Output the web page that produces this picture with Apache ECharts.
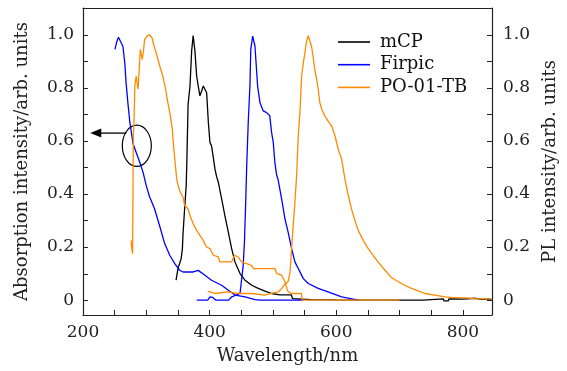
<!DOCTYPE html>
<html>
<head>
<meta charset="utf-8">
<script src="https://cdn.jsdelivr.net/npm/echarts@6/dist/echarts.min.js"></script>
<style>
  html, body { margin: 0; padding: 0; background: #fff; }
  #chart { width: 567px; height: 371px; }
</style>
</head>
<body>
<div id="chart"></div>
<script>
// tick positions / labels
var xTickLabels = [200, 400, 600, 800];
var yTickLabels = [0, 0.2, 0.4, 0.6, 0.8, 1.0];
var yTicks = [0, 0.1, 0.2, 0.3, 0.4, 0.5, 0.6, 0.7, 0.8, 0.9, 1.0];

// mCP PL
var mcpNm = [347, 350, 355, 357, 358, 360.5, 363, 364, 366, 369, 371.6, 374, 376.8, 379.5, 382, 384.7, 387.4, 390, 392.6, 395.3, 398, 400.5, 403, 405.8, 408.4, 411, 413.7, 419, 424, 429.5, 434.8, 440, 448, 455.8, 466.4, 476.8, 487.4, 498, 511, 529, 531, 560, 600, 700, 737, 738, 769, 770, 777, 778, 800, 820, 830, 845];
var mcpPL = [0.075, 0.119, 0.156, 0.194, 0.25, 0.344, 0.431, 0.519, 0.7375, 0.806, 0.9375, 0.996, 0.9375, 0.844, 0.806, 0.769, 0.775, 0.806, 0.8125, 0.781, 0.669, 0.594, 0.581, 0.5375, 0.494, 0.465, 0.444, 0.381, 0.319, 0.256, 0.194, 0.144, 0.1, 0.075, 0.056, 0.044, 0.034, 0.025, 0.02, 0.02, 0.006, 0.002, 0.001, 0, 0, 0.005, 0.005, -0.003, -0.003, 0.005, 0.004, 0.007, 0.003, 0.004];

// Firpic absorption
var firAbsNm = [250.5, 253, 256, 259, 263, 266, 268, 271, 274, 279, 284, 289.5, 295, 300, 305, 313, 321, 329, 337, 345, 352.6, 358, 374, 382, 392.6, 403, 419, 429.5, 440, 456, 471.6, 480, 548];
var firAbs = [0.944, 0.97, 0.99, 0.985, 0.956, 0.894, 0.82, 0.74, 0.67, 0.59, 0.556, 0.52, 0.48, 0.43, 0.39, 0.344, 0.28, 0.213, 0.169, 0.1375, 0.1125, 0.106, 0.106, 0.112, 0.094, 0.075, 0.056, 0.0375, 0.019, 0.0125, 0.002, 0, 0];

// Firpic PL
var firPLNm = [379.5, 397, 400.5, 405, 410, 430, 435, 448, 451, 453, 455, 457, 458.5, 461, 463.7, 465, 468, 471.6, 473, 475.8, 479.5, 484.7, 490, 495, 497.9, 500.5, 503, 506, 508, 513.7, 519, 524, 529.5, 534.7, 540, 548, 555.8, 571.5, 587, 608.5, 634.7];
var firPL = [0, 0, 0.0125, 0.01, 0, 0, 0.0125, 0.025, 0.03, 0.13, 0.22, 0.37, 0.5, 0.67, 0.81, 0.944, 0.994, 0.956, 0.906, 0.806, 0.744, 0.7125, 0.706, 0.694, 0.631, 0.594, 0.519, 0.469, 0.456, 0.381, 0.306, 0.256, 0.194, 0.144, 0.119, 0.081, 0.0625, 0.044, 0.031, 0.0125, 0];

// PO-01-TB absorption
var poAbsNm = [276, 276.8, 278.3, 279.5, 280.5, 282, 284, 287, 289.6, 290.5, 293.6, 295.8, 297.3, 301, 305, 309, 311.6, 314.7, 318.4, 322, 326, 330.5, 334, 338, 341, 343, 345, 348, 351.6, 355, 358, 360.5, 365.8, 369, 374, 379.5, 384.7, 390, 395, 400.5, 405.8, 413.7, 416, 434.8, 439, 445, 450.5, 466, 469, 503, 506, 513.7, 519, 522, 524, 529.5, 545, 546, 700];
var poAbs = [0.225, 0.2, 0.175, 0.62, 0.67, 0.81, 0.844, 0.794, 0.8, 0.944, 0.906, 0.944, 0.981, 0.994, 1.0, 0.988, 0.9625, 0.9375, 0.906, 0.875, 0.844, 0.794, 0.744, 0.694, 0.644, 0.581, 0.531, 0.456, 0.419, 0.4, 0.3875, 0.356, 0.344, 0.319, 0.2875, 0.2625, 0.244, 0.225, 0.2, 0.194, 0.169, 0.1625, 0.144, 0.144, 0.169, 0.1625, 0.144, 0.131, 0.119, 0.119, 0.1, 0.094, 0.069, 0.044, 0.031, 0.025, 0.025, 0, 0];

// PO-01-TB PL
var poPLNm = [397, 408, 429, 445, 466, 487, 498, 508, 514, 519, 524, 527, 529.5, 532, 534.7, 537.4, 540, 542.6, 545.3, 548, 550.5, 553, 555.8, 558.4, 561, 563.7, 566, 569, 571.5, 574, 577, 582, 587, 592.7, 598, 603, 608.5, 613.7, 619, 624, 629.5, 634.7, 642.6, 650.5, 658, 666, 677, 687, 698, 708, 719, 729.5, 740, 756, 771.6, 782, 803, 824, 845];
var poPL = [0.034, 0.025, 0.031, 0.025, 0.025, 0.019, 0.025, 0.031, 0.044, 0.06, 0.07, 0.106, 0.194, 0.281, 0.369, 0.469, 0.619, 0.706, 0.844, 0.894, 0.931, 0.975, 0.996, 0.975, 0.956, 0.9125, 0.869, 0.831, 0.794, 0.744, 0.719, 0.694, 0.675, 0.656, 0.619, 0.569, 0.531, 0.456, 0.394, 0.344, 0.3, 0.2625, 0.225, 0.194, 0.169, 0.144, 0.1125, 0.085, 0.069, 0.056, 0.044, 0.035, 0.025, 0.019, 0.0125, 0.01, 0.0087, 0.005, 0.005];

function zip(a, b) {
  return a.map(function (v, i) { return [v, b[i]]; });
}

var FONT = "DejaVu Serif";
var AX = "#222";
var X_MIN = 200, X_MAX = 846;

function yAxisOf(pos, name, gap, margin) {
  return {
    type: "value",
    position: pos,
    min: -0.056,
    max: 1.1,
    splitLine: { show: false },
    axisLine: { show: true, onZero: false, lineStyle: { color: AX, width: 1.2 } },
    axisTick: { show: false },
    axisLabel: {
      customValues: yTickLabels,
      margin: margin,
      fontFamily: FONT,
      fontSize: 17,
      color: "#222",
      formatter: function (v) { return v === 0 ? "0" : v.toFixed(1); }
    },
    name: name,
    nameLocation: "middle",
    nameRotate: 90,
    nameGap: gap,
    nameTextStyle: { fontFamily: FONT, fontSize: 18, color: "#222" }
  };
}

function line(name, data, color) {
  return {
    name: name,
    type: "line",
    data: data,
    symbol: "none",
    color: color,
    lineStyle: { width: 1.3 },
    clip: true
  };
}

var chart = echarts.init(document.getElementById("chart"));
var option = {
  animation: false,
  grid: { left: 83, right: 75, top: 8, bottom: 56 },
  legend: {
    data: ["mCP", "Firpic", "PO-01-TB"],
    orient: "vertical",
    left: 333,
    top: 27,
    icon: "rect",
    itemWidth: 32,
    itemHeight: 1.6,
    itemGap: 2.7,
    textStyle: { fontFamily: FONT, fontSize: 18, lineHeight: 20, color: "#111", padding: [0, 0, 0, 5] }
  },
  xAxis: [
    {
      type: "value",
      position: "bottom",
      min: X_MIN,
      max: X_MAX,
      interval: 50,
      splitLine: { show: false },
      axisLine: { show: true, onZero: false, lineStyle: { color: AX, width: 1.2 } },
      axisTick: { show: true, inside: true, length: 5, lineStyle: { color: AX, width: 1 } },
      axisLabel: {
        margin: 9, fontFamily: FONT, fontSize: 17, color: "#222",
        formatter: function (v) { return xTickLabels.indexOf(v) >= 0 ? String(v) : ""; }
      },
      name: "Wavelength/nm",
      nameLocation: "middle",
      nameGap: 32,
      nameTextStyle: { fontFamily: FONT, fontSize: 18, color: "#222" }
    },
    {
      type: "value",
      position: "top",
      min: X_MIN,
      max: X_MAX,
      splitLine: { show: false },
      axisLine: { show: true, onZero: false, lineStyle: { color: AX, width: 1.2 } },
      axisTick: { show: false },
      axisLabel: { show: false }
    }
  ],
  yAxis: [
    yAxisOf("left", "Absorption intensity/arb. units", 52, 9),
    yAxisOf("right", "PL intensity/arb. units", 46, 11)
  ],
  series: [
    line("mCP", zip(mcpNm, mcpPL), "#000000"),
    line("Firpic", zip(firAbsNm, firAbs), "#0000ff"),
    line("Firpic", zip(firPLNm, firPL), "#0000ff"),
    line("PO-01-TB", zip(poAbsNm, poAbs), "#ff8a00"),
    line("PO-01-TB", zip(poPLNm, poPL), "#ff8a00")
  ]
};
chart.setOption(option);

var toPx = function (p) { return chart.convertToPixel({ xAxisIndex: 0, yAxisIndex: 0 }, p); };

// inward y ticks on both sides, every 0.1
var graphics = [];
yTicks.forEach(function (v) {
  var l = toPx([X_MIN, v]);
  var r = toPx([X_MAX, v]);
  var y = Math.round(l[1]) + 0.5;
  graphics.push({ type: "line", shape: { x1: l[0], y1: y, x2: l[0] + 5, y2: y }, style: { stroke: AX, lineWidth: 1 } });
  graphics.push({ type: "line", shape: { x1: r[0] - 5, y1: y, x2: r[0], y2: y }, style: { stroke: AX, lineWidth: 1 } });
});

// annotation: ellipse around the crossing, arrow pointing to the left axis
var ellC = [285, 0.581];
var ellR = [22.9, 0.0776];
var arrowFrom = [268.4, 0.629];
var arrowTo = [211.5, 0.629];

var c = toPx(ellC);
var cr = toPx([ellC[0] + ellR[0], ellC[1] - ellR[1]]);
var a0 = toPx(arrowFrom);
var a1 = toPx(arrowTo);

graphics.push(
  {
    type: "ellipse",
    shape: { cx: c[0], cy: c[1], rx: cr[0] - c[0], ry: cr[1] - c[1] },
    style: { fill: "none", stroke: "#000", lineWidth: 1.2 }
  },
  {
    type: "line",
    shape: { x1: a0[0], y1: a0[1], x2: a1[0] + 8, y2: a1[1] },
    style: { stroke: "#000", lineWidth: 1.3 }
  },
  {
    type: "polygon",
    shape: { points: [[a1[0], a1[1]], [a1[0] + 11, a1[1] - 4.5], [a1[0] + 11, a1[1] + 4.5]] },
    style: { fill: "#000" }
  }
);

chart.setOption({ graphic: graphics });

window.addEventListener("resize", function () { chart.resize(); });
</script>
</body>
</html>
